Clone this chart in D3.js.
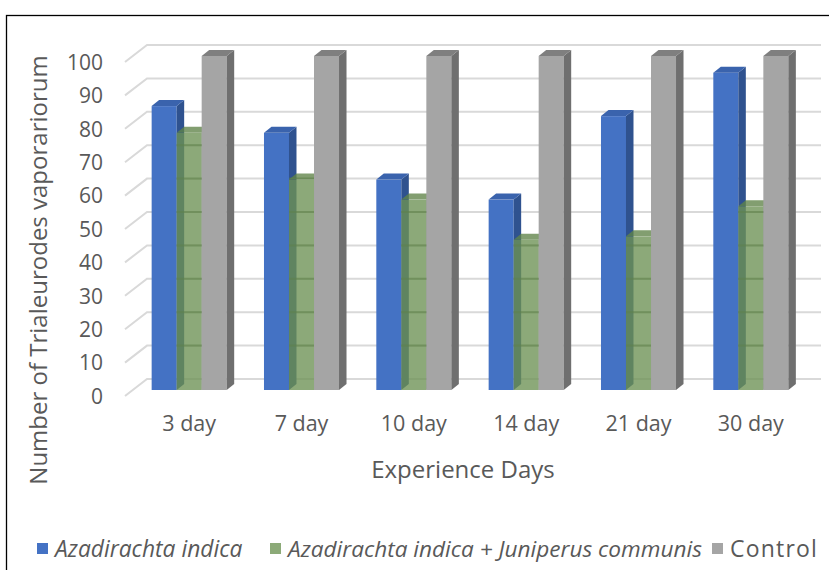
<!DOCTYPE html>
<html>
<head>
<meta charset="utf-8">
<script src="https://cdn.jsdelivr.net/npm/d3@7"></script>
<style>
  html, body { margin: 0; padding: 0; background: #fff; }
  svg { display: block; }
  text { font-family: "Open Sans", "Noto Sans", sans-serif; fill: #595959; }
</style>
</head>
<body>
<svg id="chart" width="829" height="570"></svg>
<script>
// Experience days and counts per treatment
const categories = ["3 day", "7 day", "10 day", "14 day", "21 day", "30 day"];
const seriesNames = ["Azadirachta indica", "Azadirachta indica + Juniperus communis", "Control"];
const neem = [85, 77, 63, 57, 82, 95];
const neemJuniper = [77, 63, 57, 45, 46, 55];
const control = [100, 100, 100, 100, 100, 100];
const yTicks = [0, 10, 20, 30, 40, 50, 60, 70, 80, 90, 100];

const svg = d3.select("#chart");
const W = 829, H = 570;

// Outer frame
svg.append("rect")
  .attr("x", 6.5).attr("y", 15.5)
  .attr("width", W).attr("height", H)
  .attr("fill", "none").attr("stroke", "#000").attr("stroke-width", 1.3);

// Bars sit on a plane; the back wall and the front floor edge are offsets from it
const x = d3.scaleBand().domain(categories).range([133, 807]).paddingInner(0.332).paddingOuter(0.166);
const xs = d3.scaleBand().domain(d3.range(3)).range([0, x.bandwidth()]);
const y = d3.scaleLinear().domain([0, 100]).range([390, 56]);

const wall = { dx: 14, dy: -11 };     // bar plane -> back wall
const front = { dx: -8, dy: 6 };      // bar plane -> front floor edge
const depth = { dx: 7.5, dy: -6 };    // thickness of each column

const grid = svg.append("g").attr("class", "grid");
yTicks.forEach(v => {
  const yw = y(v) + wall.dy;
  const xl = x.range()[0] + wall.dx;
  const xr = x.range()[1] + wall.dx;
  const xf = x.range()[0] + front.dx;
  const yf = y(v) + front.dy;
  grid.append("path")
    .attr("d", `M${xf},${yf}L${xl},${yw}L${xr},${yw}`)
    .attr("fill", "none").attr("stroke", "#d9d9d9").attr("stroke-width", 2);
});

// Value axis labels along the front edge
const yLabelScale = y.copy().range(y.range().map(d => d + front.dy));
svg.append("g")
  .attr("transform", `translate(${x.range()[0] + front.dx - 22},0)`)
  .call(d3.axisLeft(yLabelScale).tickValues(yTicks).tickSize(0).tickPadding(0))
  .call(g => g.select(".domain").remove())
  .call(g => g.selectAll("text").attr("font-size", 21).style("fill", "#595959")
    .style("font-family", "'Open Sans', sans-serif").attr("dy", "0.35em"));

// Category labels
svg.append("g")
  .attr("transform", `translate(0,${y(0) + 26})`)
  .call(d3.axisBottom(x).tickSize(0).tickPadding(0))
  .call(g => g.select(".domain").remove())
  .call(g => g.selectAll("text").attr("font-size", 21.5).style("fill", "#595959")
    .style("font-family", "'Open Sans', sans-serif").attr("dy", "0.7em"));

const palette = [
  { front: "#4472c4", side: "#2f528f", top: "#3a63ad", opacity: 1 },
  { front: "#6d9254", side: "#3c5a2c", top: "#5f8448", opacity: 0.78 },
  { front: "#a5a5a5", side: "#6f6f6f", top: "#7f7f7f", opacity: 1 }
];
const seriesValues = [neem, neemJuniper, control];

const bars = svg.append("g").attr("class", "bars");
categories.forEach((c, i) => {
  seriesValues.forEach((vals, s) => {
    const v = vals[i];
    const x0 = x(c) + xs(s), x1 = x0 + xs.bandwidth();
    const y0 = y(0), y1 = y(v);
    const col = palette[s];
    const g = bars.append("g").attr("opacity", col.opacity);
    // front face
    g.append("rect").attr("x", x0).attr("y", y1).attr("width", x1 - x0).attr("height", y0 - y1)
      .attr("fill", col.front);
    // right side face
    g.append("path")
      .attr("d", `M${x1},${y1}L${x1 + depth.dx},${y1 + depth.dy}L${x1 + depth.dx},${y0 + depth.dy}L${x1},${y0}Z`)
      .attr("fill", col.side);
    // top face
    g.append("path")
      .attr("d", `M${x0},${y1}L${x0 + depth.dx},${y1 + depth.dy}L${x1 + depth.dx},${y1 + depth.dy}L${x1},${y1}Z`)
      .attr("fill", col.top);
  });
});

// Gridlines seen through the translucent middle series
categories.forEach((c, i) => {
  const x0 = x(c) + xs(1), x1 = x0 + xs.bandwidth();
  yTicks.filter(t => t > 0 && t < neemJuniper[i]).forEach(t => {
    bars.append("line")
      .attr("x1", x0).attr("x2", x1)
      .attr("y1", y(t) + wall.dy).attr("y2", y(t) + wall.dy)
      .attr("stroke", "#5e7f4a").attr("stroke-opacity", 0.5).attr("stroke-width", 2);
  });
});

// Axis titles
svg.append("text")
  .attr("transform", `translate(47,270) rotate(-90)`)
  .attr("text-anchor", "middle")
  .attr("font-size", 24)
  .text("Number of Trialeurodes vaporariorum");

svg.append("text")
  .attr("x", 463).attr("y", 478)
  .attr("text-anchor", "middle")
  .attr("font-size", 24)
  .text("Experience Days");

// Legend
const legendItems = [
  { name: seriesNames[0], color: palette[0].front, italic: true, x: 37, size: 22.8, spacing: 0 },
  { name: seriesNames[1], color: "#8caa78", italic: true, x: 270, size: 22.6, spacing: 0 },
  { name: seriesNames[2], color: palette[2].front, italic: false, x: 712, size: 23, spacing: 1.2 }
];
const legend = svg.append("g");
legendItems.forEach(d => {
  legend.append("rect").attr("x", d.x).attr("y", 543).attr("width", 11).attr("height", 11).attr("fill", d.color);
  legend.append("text")
    .attr("x", d.x + 18).attr("y", 557)
    .attr("font-size", d.size)
    .attr("letter-spacing", d.spacing)
    .attr("font-style", d.italic ? "italic" : "normal")
    .text(d.name);
});
</script>
</body>
</html>
